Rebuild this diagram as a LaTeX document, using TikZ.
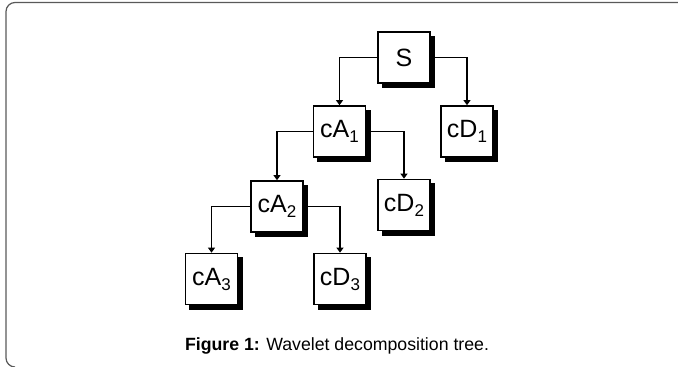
\documentclass[tikz,border=0pt]{standalone}
\usepackage{fontspec}
\setmainfont{Liberation Sans}
\usetikzlibrary{arrows.meta,backgrounds}
\begin{document}
\begin{tikzpicture}[x=1pt,y=-1pt,
  box/.style={draw=black,line width=1.7pt,fill=white,minimum width=52pt,minimum height=51pt,inner sep=0pt,
    font=\fontsize{25}{25}\selectfont},
  shadowbox/.style={fill=black},
  conn/.style={line width=1.7pt,-{Triangle[width=7pt,length=5pt]}}]
\useasboundingbox (0,0) rectangle (678,367);
\draw[line width=1.2pt,draw=black!65] (678,2.5) -- (15,2.5) arc[start angle=270,end angle=180,radius=9] -- (6,358) arc[start angle=180,end angle=90,radius=9];
\newcommand{\sbs}[1]{\raisebox{-5pt}{\fontsize{17}{17}\selectfont #1}}
\node[box] (S) at (404,57.5) {S};
\node[box] (cA1) at (339.5,131.5) {cA\sbs{1}};
\node[box] (cD1) at (467,131.5) {cD\sbs{1}};
\node[box] (cD2) at (404,205) {cD\sbs{2}};
\node[box] (cA2) at (277,206.5) {cA\sbs{2}};
\node[box] (cA3) at (211.5,279) {cA\sbs{3}};
\node[box] (cD3) at (340,279) {cD\sbs{3}};
\begin{scope}[on background layer]
\foreach \n in {S,cA1,cD1,cD2,cA2,cA3,cD3}{
  \fill[shadowbox] ([shift={(4.5,4.5)}]\n.north west) rectangle ([shift={(4.5,4.5)}]\n.south east);
}
\end{scope}
\draw[conn] (S.west) -| (cA1.north);
\draw[conn] (S.east) -| (cD1.north);
\draw[conn] (cA1.west) -| (cA2.north);
\draw[conn] (cA1.east) -| (cD2.north);
\draw[conn] (cA2.west) -| (cA3.north);
\draw[conn] (cA2.east) -| (cD3.north);
\node[font=\fontsize{17.7}{20}\selectfont,anchor=base] (cap) at (337,350) {\textbf{Figure 1:} Wavelet decomposition tree.};
\end{tikzpicture}
\end{document}
